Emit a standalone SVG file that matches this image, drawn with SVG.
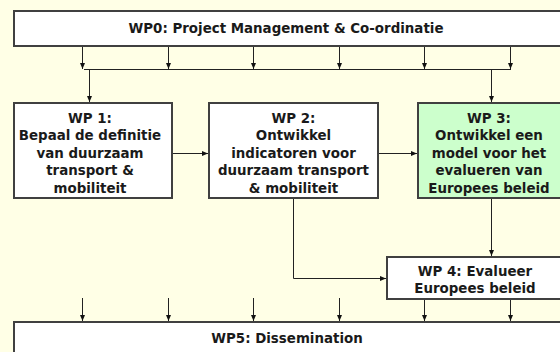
<svg xmlns="http://www.w3.org/2000/svg" width="560" height="352" viewBox="0 0 560 352">
<style>
.box{fill:#ffffff;stroke:#404040;stroke-width:2}
.green{fill:#ccffcc}
.t{font-family:"DejaVu Sans",Verdana,sans-serif;font-weight:bold;font-size:13.4px;fill:#1a1a1a;text-anchor:middle}
.c{fill:none;stroke:#222;stroke-width:1}
</style>
<defs>
<marker id="ah" viewBox="0 0 6 6" refX="6" refY="3" markerWidth="6" markerHeight="6" orient="auto" markerUnits="userSpaceOnUse">
<path d="M0,0.5 L6,3 L0,5.5 Z" fill="#111"/>
</marker>
</defs>
<rect x="0" y="0" width="560" height="352" fill="#ffffe6"/>
<g id="connectors">
<path class="c" d="M82.5,46 V69" marker-end="url(#ah)"/>
<path class="c" d="M168.5,46 V69" marker-end="url(#ah)"/>
<path class="c" d="M253.5,46 V69" marker-end="url(#ah)"/>
<path class="c" d="M339.5,46 V69" marker-end="url(#ah)"/>
<path class="c" d="M424.5,46 V69" marker-end="url(#ah)"/>
<path class="c" d="M510.5,46 V69" marker-end="url(#ah)"/>
<path class="c" d="M84,69.5 H511"/>
<path class="c" d="M89.5,69.5 V102" marker-end="url(#ah)"/>
<path class="c" d="M491.5,69.5 V102" marker-end="url(#ah)"/>
<path class="c" d="M172,153.5 H208" marker-end="url(#ah)"/>
<path class="c" d="M378,153.5 H417" marker-end="url(#ah)"/>
<path class="c" d="M293.5,198 V278.5 H386" marker-end="url(#ah)"/>
<path class="c" d="M491.5,198 V256" marker-end="url(#ah)"/>
<path class="c" d="M82.5,298 V321" marker-end="url(#ah)"/>
<path class="c" d="M168.5,298 V321" marker-end="url(#ah)"/>
<path class="c" d="M253.5,298 V321" marker-end="url(#ah)"/>
<path class="c" d="M339.5,298 V321" marker-end="url(#ah)"/>
<path class="c" d="M424.5,299 V321" marker-end="url(#ah)"/>
<path class="c" d="M510.5,299 V321" marker-end="url(#ah)"/>
</g>
<g id="wp0">
<rect class="box" x="14" y="11" width="549" height="35"/>
<text class="t" x="286" y="33">WP0: Project Management &amp; Co-ordinatie</text>
</g>
<g id="wp1">
<rect class="box" x="14" y="103" width="158" height="95"/>
<text class="t" x="90" y="122.5">WP 1:</text>
<text class="t" x="90" y="140">Bepaal de definitie</text>
<text class="t" x="90" y="157.5">van duurzaam</text>
<text class="t" x="90" y="175">transport &amp;</text>
<text class="t" x="90" y="192.5">mobiliteit</text>
</g>
<g id="wp2">
<rect class="box" x="209" y="103" width="169" height="95"/>
<text class="t" x="293.5" y="122.5">WP 2:</text>
<text class="t" x="293.5" y="140">Ontwikkel</text>
<text class="t" x="293.5" y="157.5">indicatoren voor</text>
<text class="t" x="293.5" y="175">duurzaam transport</text>
<text class="t" x="293.5" y="192.5">&amp; mobiliteit</text>
</g>
<g id="wp3">
<rect class="box green" x="418" y="103" width="145" height="95"/>
<text class="t" x="489" y="122.5">WP 3:</text>
<text class="t" x="489" y="140">Ontwikkel een</text>
<text class="t" x="489" y="157.5">model voor het</text>
<text class="t" x="489" y="175">evalueren van</text>
<text class="t" x="489" y="192.5">Europees beleid</text>
</g>
<g id="wp4">
<rect class="box" x="387" y="257" width="176" height="42"/>
<text class="t" x="475" y="276">WP 4: Evalueer</text>
<text class="t" x="475" y="293">Europees beleid</text>
</g>
<g id="wp5">
<rect class="box" x="14" y="322" width="549" height="40"/>
<text class="t" x="287" y="343">WP5: Dissemination</text>
</g>
</svg>
